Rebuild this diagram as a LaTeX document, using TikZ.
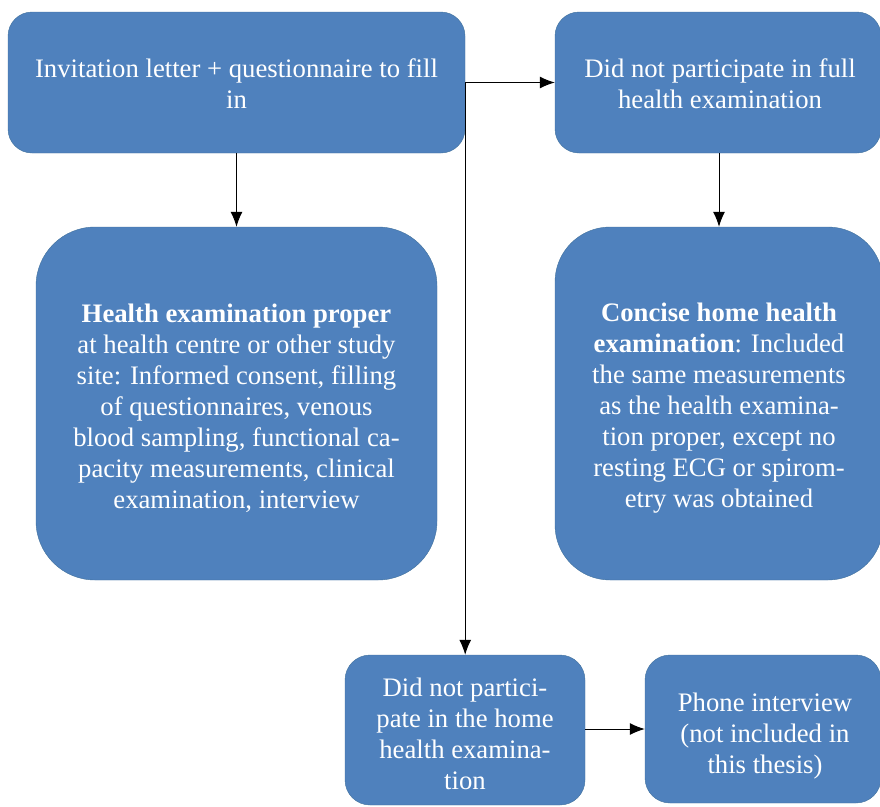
\documentclass[tikz,border=0pt]{standalone}
\usepackage{fontspec}
\setmainfont{Liberation Serif}
\usepackage{xcolor}
\usetikzlibrary{arrows.meta}
\definecolor{boxblue}{HTML}{4F81BD}
\definecolor{boxedge}{HTML}{41719C}

\begin{document}
\begin{tikzpicture}[x=1pt, y=-1pt,
  box/.style={draw=boxedge, fill=boxblue, inner sep=0pt},
  boxtext/.style={text=white, align=center, inner sep=0pt,
    font=\fontsize{26.7}{31}\selectfont},
  link/.style={->, >={Latex[length=15pt,width=12pt]}, line width=1pt}]

\useasboundingbox (0,0) rectangle (880,806);

% Top row
\node[box, rounded corners=24pt, minimum width=457pt, minimum height=141pt,
  label={[boxtext, yshift=-1.5pt]center:{Invitation letter + questionnaire to fill\\in}}]
  (invite) at (236.5,82.5) {};
\node[box, rounded corners=24pt, minimum width=326pt, minimum height=141pt,
  label={[boxtext, yshift=-1.5pt, xshift=2pt]center:{Did not participate in full\\health examination}}]
  (noshow) at (718,82.5) {};

% Middle row
\node[box, rounded corners=59pt, minimum width=401pt, minimum height=353pt,
  label={[boxtext, yshift=-4.5pt]center:{\textbf{Health examination proper}\\at health centre or other study\\site: Informed consent, filling\\of questionnaires, venous\\blood sampling, functional ca-\\pacity measurements, clinical\\examination, interview}}]
  (proper) at (236.5,403.5) {};
\node[box, rounded corners=55pt, minimum width=328pt, minimum height=353pt,
  label={[boxtext, yshift=-5pt]center:{\textbf{Concise home health}\\\textbf{examination}: Included\\the same measurements\\as the health examina-\\tion proper, except no\\resting ECG or spirom-\\etry was obtained}}]
  (homeexam) at (719,403.5) {};

% Bottom row
\node[box, rounded corners=25pt, minimum width=240pt, minimum height=150pt,
  label={[boxtext, yshift=-4pt]center:{Did not partici-\\pate in the home\\health examina-\\tion}}]
  (nohome) at (465,730) {};
\node[box, rounded corners=25pt, minimum width=236pt, minimum height=148pt,
  label={[boxtext, yshift=-7pt, xshift=2pt]center:{Phone interview\\(not included in\\this thesis)}}]
  (phone) at (763,729) {};

% Connectors
\draw[link] (invite.south) -- (proper.north);
\draw[link] (invite.east) -- (noshow.west);
\draw[link] (invite.east) -- (invite.east |- nohome.north);
\draw[link] (homeexam.north |- noshow.south) -- (homeexam.north);
\draw[link] (nohome.east |- phone.west) -- (phone.west);

\end{tikzpicture}
\end{document}
